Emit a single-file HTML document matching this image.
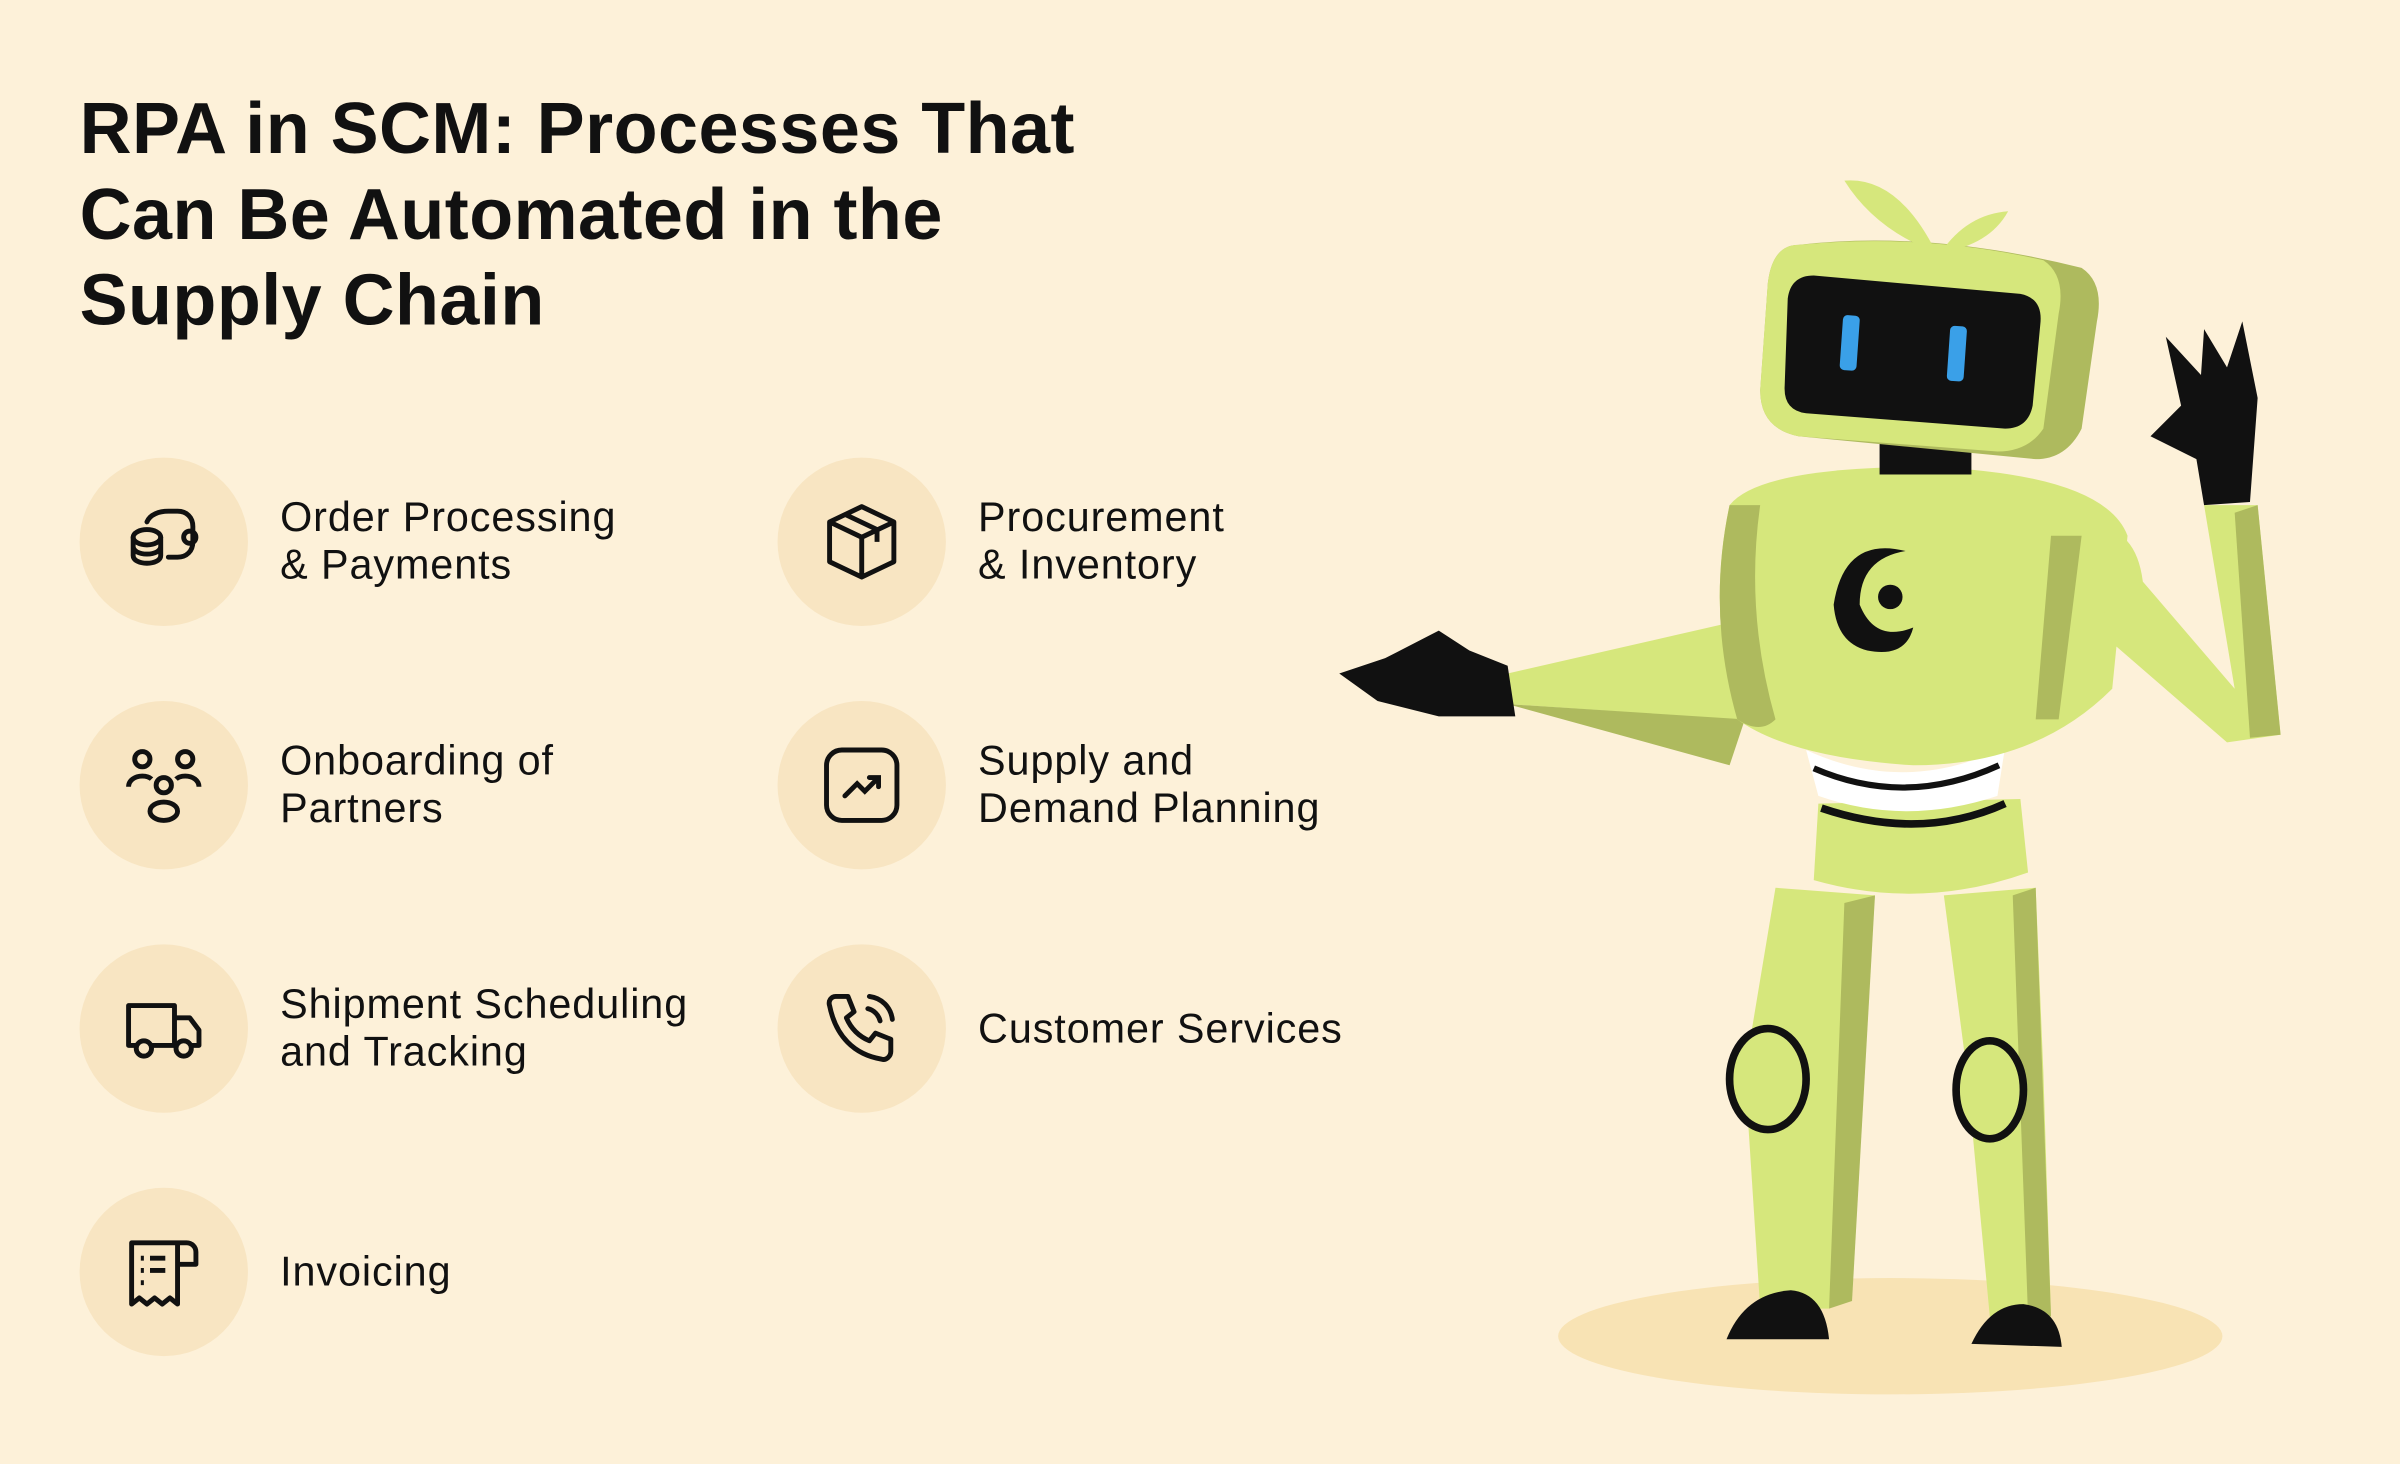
<!DOCTYPE html>
<html><head><meta charset="utf-8"><style>
html,body{margin:0;padding:0;}
body{width:2400px;height:1464px;overflow:hidden;background:#fdf1d9;}
#w{position:absolute;left:0;top:0;width:1568px;height:956px;transform:scale(1.5306);transform-origin:0 0;font-family:"Liberation Sans",sans-serif;color:#111;}
h1{position:absolute;left:52px;top:56px;margin:0;font-size:47px;line-height:56px;font-weight:bold;letter-spacing:0.3px;}
.c{position:absolute;width:110px;height:110px;border-radius:50%;background:#f8e5c2;}
.c svg{position:absolute;left:28px;top:28px;width:54px;height:54px;}
.t{position:absolute;font-size:27px;line-height:31px;letter-spacing:0.6px;}
</style></head><body><div id="w">
<h1>RPA in SCM: Processes That<br>Can Be Automated in the<br>Supply Chain</h1>

<div class="c" style="left:52px;top:299px"><svg viewBox="0 0 54 54" fill="none" stroke="#111" stroke-width="3.2" stroke-linecap="round"><ellipse cx="16" cy="24" rx="9" ry="5"/><path d="M7 24v12c0 3 4 5 9 5s9-2 9-5V24M7 30c0 3 4 5 9 5s9-2 9-5"/><path d="M16 14c2-5 8-7 14-7h6c6 0 10 4 10 10v10c0 6-4 10-10 10h-6"/><circle cx="44" cy="24" r="4"/></svg></div>
<div class="t" style="left:183px;top:323px">Order Processing<br>&amp; Payments</div>

<div class="c" style="left:52px;top:458px"><svg viewBox="0 0 54 54" fill="none" stroke="#111" stroke-width="3.2"><circle cx="13" cy="10" r="5"/><circle cx="41" cy="10" r="5"/><circle cx="27" cy="27" r="5"/><path d="M4 28c0-4 4-7 9-7 3 0 5 1 6 2M50 28c0-4-4-7-9-7-3 0-5 1-6 2"/><ellipse cx="27" cy="44" rx="9" ry="6"/></svg></div>
<div class="t" style="left:183px;top:482px">Onboarding of<br>Partners</div>

<div class="c" style="left:52px;top:617px"><svg viewBox="0 0 54 54" fill="none" stroke="#111" stroke-width="3.2" stroke-linejoin="round"><path d="M4 12h30v26H4zM34 20h10l6 8v10H34"/><circle cx="14" cy="40" r="5" fill="#f8e5c2"/><circle cx="40" cy="40" r="5" fill="#f8e5c2"/></svg></div>
<div class="t" style="left:183px;top:641px">Shipment Scheduling<br>and Tracking</div>

<div class="c" style="left:52px;top:776px"><svg viewBox="0 0 54 54" fill="none" stroke="#111" stroke-width="3.2" stroke-linejoin="round"><path d="M6 8h30v40l-5-4-5 4-5-4-5 4-5-4-5 4zM36 8h6a6 6 0 0 1 6 6v8H36"/><path d="M12 18h2M18 18h10M12 26h2M18 26h10M12 34h2"/></svg></div>
<div class="t" style="left:183px;top:816px">Invoicing</div>

<div class="c" style="left:508px;top:299px"><svg viewBox="0 0 54 54" fill="none" stroke="#111" stroke-width="3.2" stroke-linejoin="round"><path d="M27 4l21 10v26L27 50 6 40V14zM6 14l21 10 21-10M27 24v26M16 9l21 10v8"/></svg></div>
<div class="t" style="left:639px;top:323px">Procurement<br>&amp; Inventory</div>

<div class="c" style="left:508px;top:458px"><svg viewBox="0 0 54 54" fill="none" stroke="#111" stroke-width="3.2" stroke-linecap="round"><rect x="4" y="4" width="46" height="46" rx="10"/><path d="M16 34l8-8 5 5 9-9M32 22h6v6"/></svg></div>
<div class="t" style="left:639px;top:482px">Supply and<br>Demand Planning</div>

<div class="c" style="left:508px;top:617px"><svg viewBox="0 0 54 54" fill="none" stroke="#111" stroke-width="3.2" stroke-linejoin="round" stroke-linecap="round"><path d="M10 6l8 0 4 10-5 4c3 7 8 12 15 15l4-5 10 4v8c0 3-3 6-6 5C22 44 10 32 6 12c-1-3 1-6 4-6zM32 6c8 1 14 7 15 15M31 14c4 1 7 4 8 8"/></svg></div>
<div class="t" style="left:639px;top:657px">Customer Services</div>

<svg style="position:absolute;left:0;top:0" width="1568" height="956" viewBox="0 0 1568 956">
<ellipse cx="1235" cy="873" rx="217" ry="38" fill="#f8e3b4"/>
<path d="M1160 580 L1225 585 L1215 700 L1195 855 L1150 855 L1140 700 Z" fill="#d6e77c"/>
<path d="M1270 585 L1330 580 L1335 700 L1340 860 L1300 860 L1285 700 Z" fill="#d6e77c"/>
<path d="M1205 590 L1225 585 L1210 850 L1195 855 Z" fill="#aeba5e"/>
<path d="M1315 585 L1330 580 L1340 860 L1325 860 Z" fill="#aeba5e"/>
<ellipse cx="1155" cy="705" rx="25" ry="33" fill="#d6e77c" stroke="#111" stroke-width="5"/>
<ellipse cx="1300" cy="712" rx="22" ry="32" fill="#d6e77c" stroke="#111" stroke-width="5"/>
<path d="M1128 875 Q1140 845 1170 843 Q1192 845 1195 875 Z" fill="#111"/>
<path d="M1288 878 Q1300 852 1322 852 Q1345 855 1347 880 Z" fill="#111"/>
<path d="M1188 525 L1320 522 L1325 570 Q1255 595 1185 575 Z" fill="#d6e77c"/>
<path d="M1190 528 Q1255 550 1310 525" stroke="#111" stroke-width="5" fill="none"/>
<path d="M1180 490 Q1245 520 1310 488 L1305 520 Q1245 540 1188 520 Z" fill="#fff"/>
<path d="M1185 502 Q1245 528 1306 500" stroke="#111" stroke-width="4" fill="none"/>
<path d="M1160 400 L1135 470 L985 460 L985 440 Z" fill="#d6e77c"/>
<path d="M985 460 L1130 500 L1140 470 Z" fill="#aeba5e"/>
<path d="M985 435 L990 468 L940 468 L900 458 L875 440 L905 430 L940 412 L960 425 Z" fill="#111"/>
<path d="M1130 330 Q1150 305 1260 305 Q1375 310 1390 350 L1380 450 Q1330 500 1250 500 Q1170 495 1135 470 Q1115 400 1130 330 Z" fill="#d6e77c"/>
<path d="M1130 330 Q1115 400 1135 470 Q1150 480 1160 470 Q1140 400 1150 330 Z" fill="#aeba5e"/>
<path d="M1340 350 L1360 350 L1345 470 L1330 470 Z" fill="#aeba5e"/>
<path d="M1198 395 Q1205 350 1245 360 Q1215 365 1215 395 Q1225 420 1250 410 Q1245 430 1220 425 Q1200 420 1198 395 Z" fill="#111"/>
<circle cx="1235" cy="390" r="8" fill="#111"/>
<path d="M1360 345 Q1395 340 1400 380 L1460 450 L1440 330 L1475 330 L1490 480 L1455 485 L1380 420 Z" fill="#d6e77c"/>
<path d="M1475 330 L1490 480 L1470 482 L1460 335 Z" fill="#aeba5e"/>
<path d="M1440 330 L1470 328 L1475 260 L1465 210 L1455 240 L1440 215 L1438 245 L1415 220 L1425 265 L1405 285 L1435 300 Z" fill="#111"/>
<rect x="1228" y="285" width="60" height="25" fill="#111"/>
<path d="M1175 160 Q1260 150 1360 175 Q1375 185 1370 210 L1360 280 Q1350 300 1330 300 L1175 285 Q1150 280 1150 255 L1155 185 Q1158 160 1175 160 Z" fill="#aeba5e"/>
<path d="M1175 160 Q1255 152 1335 170 Q1350 180 1345 205 L1335 280 Q1325 295 1305 295 L1175 285 Q1150 280 1150 255 L1155 185 Q1158 160 1175 160 Z" fill="#d6e77c"/>
<path d="M1185 180 L1320 192 Q1335 195 1333 212 L1328 265 Q1325 280 1310 280 L1180 270 Q1165 268 1166 252 L1168 195 Q1170 180 1185 180 Z" fill="#111"/>
<rect x="1203" y="206" width="11" height="36" rx="3" fill="#3aa0e8" transform="rotate(4 1208 224)"/>
<rect x="1273" y="213" width="11" height="36" rx="3" fill="#3aa0e8" transform="rotate(4 1278 231)"/>
<path d="M1265 165 Q1240 115 1205 118 Q1225 150 1265 165 Z" fill="#d6e77c"/>
<path d="M1268 165 Q1285 140 1312 138 Q1300 160 1268 165 Z" fill="#d6e77c"/>
</svg>
</div></body></html>
